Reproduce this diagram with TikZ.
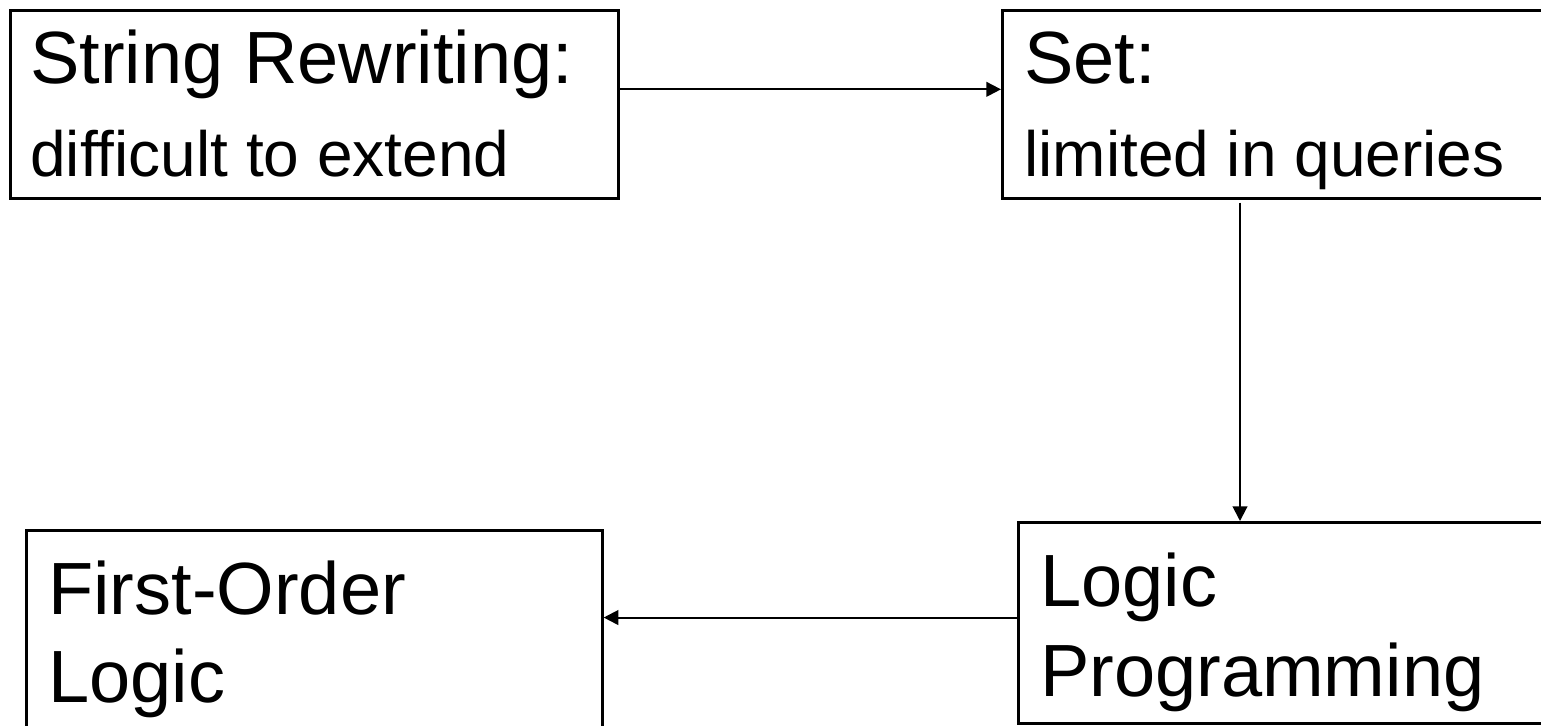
\documentclass[tikz,border=0pt]{standalone}
\usepackage{fontspec}
\setmainfont{Liberation Sans}
\usetikzlibrary{arrows.meta}
\begin{document}
\begin{tikzpicture}[x=0.75pt,y=-0.75pt,
  box/.style={draw=black,line width=2pt,rectangle,inner sep=0pt,anchor=north west},
  big/.style={inner sep=0pt,anchor=base west,font=\fontsize{55.5pt}{66pt}\selectfont},
  small/.style={inner sep=0pt,anchor=base west,font=\fontsize{48pt}{58pt}\selectfont},
  arr/.style={line width=1.5pt,-{Triangle[length=11pt,width=11pt]}}]
\clip (0,0) rectangle (1541,725);
\fill[white] (0,0) rectangle (1541,725);
% boxes
\node[box,minimum width=456pt,minimum height=141pt] (b1) at (9,9) {};
\node[box,minimum width=450pt,minimum height=141pt] (b2) at (1001,9) {};
\node[box,minimum width=432pt,minimum height=160pt] (b3) at (25,529) {};
\node[box,minimum width=450pt,minimum height=151pt] (b4) at (1017,521) {};
% texts
\node[big] (t1a) at (30,83) {String Rewriting:};
\node[small] (t1b) at (30,176) {difficult to extend};
\node[big] (t2a) at (1024,83) {Set:};
\node[small] (t2b) at (1024,176) {limited in queries};
\node[big] (t3a) at (48,614) {First-Order};
\node[big] (t3b) at (48,702) {Logic};
\node[big] (t4a) at (1040,606) {Logic};
\node[big] (t4b) at (1040,696) {Programming};
% connectors
\draw[arr] ([yshift=11.25pt]b1.east) -- ([yshift=11.25pt]b2.west);
\draw[arr] ([xshift=179.25pt,yshift=-2.25pt]b2.south west) -- ([xshift=167.25pt]b4.north west);
\coordinate (p) at ([yshift=4.1pt]b4.west);
\draw[arr] (p) -- (p -| b3.east);
\end{tikzpicture}
\end{document}
